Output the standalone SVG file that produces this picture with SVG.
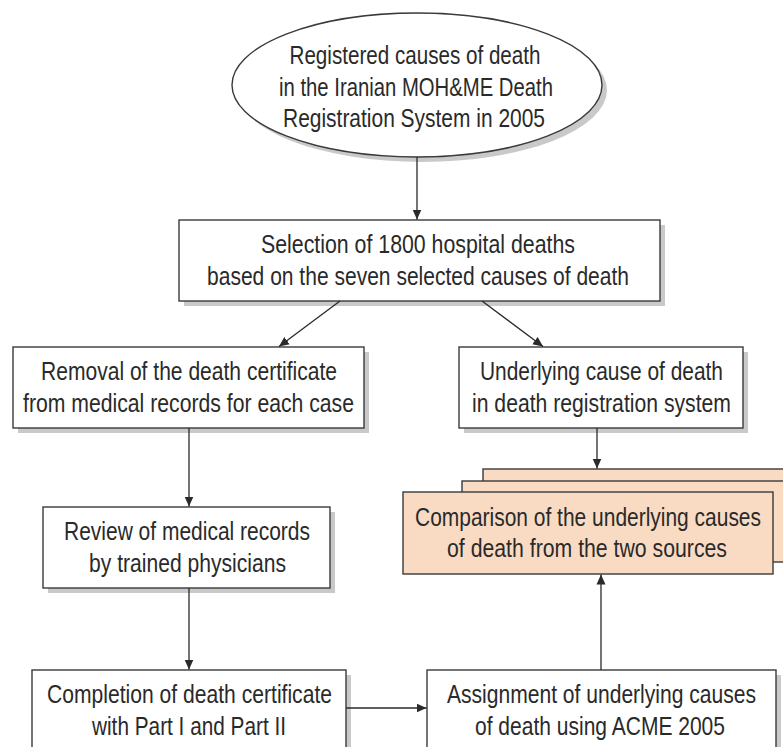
<svg xmlns="http://www.w3.org/2000/svg" width="783" height="747" viewBox="0 0 783 747">
<defs>
<style>
.box{fill:#fff;stroke:#3a3a3a;stroke-width:1.4}
.peach{fill:#f9dbc4;stroke:#3a3a3a;stroke-width:1.4}
.sh{fill:#c9c9c9}
.t{font-family:"Liberation Sans",Arial,sans-serif;font-size:26.5px;fill:#2a2a2a;text-anchor:middle}
.c{stroke:#2a2a2a;stroke-width:1.3;fill:none;marker-end:url(#ah)}
</style>
<marker id="ah" viewBox="0 0 10 10" refX="10" refY="5" markerWidth="10" markerHeight="10" markerUnits="userSpaceOnUse" orient="auto">
<path d="M0,0.5 L10,5 L0,9.5 Z" fill="#2a2a2a"/>
</marker>
</defs>
<rect width="783" height="747" fill="#fff"/>

<g id="n-registered">
<ellipse class="sh" cx="422" cy="90" rx="185" ry="72"/>
<ellipse class="box" cx="417" cy="85" rx="185" ry="72"/>
<text class="t" x="415" y="64" textLength="251" lengthAdjust="spacingAndGlyphs">Registered causes of death</text>
<text class="t" x="416" y="96" textLength="274" lengthAdjust="spacingAndGlyphs">in the Iranian MOH&amp;ME Death</text>
<text class="t" x="414" y="127" textLength="262" lengthAdjust="spacingAndGlyphs">Registration System in 2005</text>
</g>

<g id="n-selection">
<rect class="sh" x="184" y="225" width="481" height="81"/>
<rect class="box" x="179" y="220" width="481" height="81"/>
<text class="t" x="418" y="253" textLength="314" lengthAdjust="spacingAndGlyphs">Selection of 1800 hospital deaths</text>
<text class="t" x="418" y="285" textLength="422" lengthAdjust="spacingAndGlyphs">based on the seven selected causes of death</text>
</g>

<g id="n-removal">
<rect class="sh" x="18" y="352" width="351" height="81"/>
<rect class="box" x="13" y="347" width="351" height="81"/>
<text class="t" x="189" y="380" textLength="296" lengthAdjust="spacingAndGlyphs">Removal of the death certificate</text>
<text class="t" x="188.5" y="412" textLength="331" lengthAdjust="spacingAndGlyphs">from medical records for each case</text>
</g>

<g id="n-underlying">
<rect class="sh" x="464" y="352" width="284" height="81"/>
<rect class="box" x="459" y="347" width="284" height="81"/>
<text class="t" x="601.5" y="380" textLength="243" lengthAdjust="spacingAndGlyphs">Underlying cause of death</text>
<text class="t" x="601.5" y="412" textLength="259" lengthAdjust="spacingAndGlyphs">in death registration system</text>
</g>

<g id="n-review">
<rect class="sh" x="48" y="512" width="287" height="81"/>
<rect class="box" x="43" y="507" width="287" height="81"/>
<text class="t" x="187" y="540" textLength="246" lengthAdjust="spacingAndGlyphs">Review of medical records</text>
<text class="t" x="187.5" y="572" textLength="197" lengthAdjust="spacingAndGlyphs">by trained physicians</text>
</g>

<g id="n-comparison">
<rect class="peach" x="483" y="469" width="310" height="81"/>
<rect class="peach" x="462" y="481" width="331" height="81"/>
<rect class="peach" x="403" y="492" width="370" height="82"/>
<text class="t" x="588" y="526" textLength="346" lengthAdjust="spacingAndGlyphs">Comparison of the underlying causes</text>
<text class="t" x="587" y="557" textLength="280" lengthAdjust="spacingAndGlyphs">of death from the two sources</text>
</g>

<g id="n-completion">
<rect class="sh" x="37" y="675" width="314" height="90"/>
<rect class="box" x="32" y="670" width="314" height="90"/>
<text class="t" x="189.5" y="703" textLength="285" lengthAdjust="spacingAndGlyphs">Completion of death certificate</text>
<text class="t" x="189" y="735" textLength="194" lengthAdjust="spacingAndGlyphs">with Part I and Part II</text>
</g>

<g id="n-assignment">
<rect class="sh" x="432" y="675" width="349" height="90"/>
<rect class="box" x="427" y="670" width="349" height="90"/>
<text class="t" x="601.5" y="703" textLength="309" lengthAdjust="spacingAndGlyphs">Assignment of underlying causes</text>
<text class="t" x="600" y="735" textLength="250" lengthAdjust="spacingAndGlyphs">of death using ACME 2005</text>
</g>

<g id="connectors">
<line class="c" x1="417" y1="157" x2="417" y2="219.5"/>
<line class="c" x1="340" y1="301" x2="279" y2="346.5"/>
<line class="c" x1="482" y1="301" x2="543" y2="346.5"/>
<line class="c" x1="189" y1="428" x2="189" y2="506.5"/>
<line class="c" x1="597" y1="428" x2="597" y2="468.5"/>
<line class="c" x1="189" y1="588" x2="189" y2="669.5"/>
<line class="c" x1="346" y1="708" x2="426.5" y2="708"/>
<line class="c" x1="601" y1="670" x2="601" y2="574.5"/>
</g>
</svg>
